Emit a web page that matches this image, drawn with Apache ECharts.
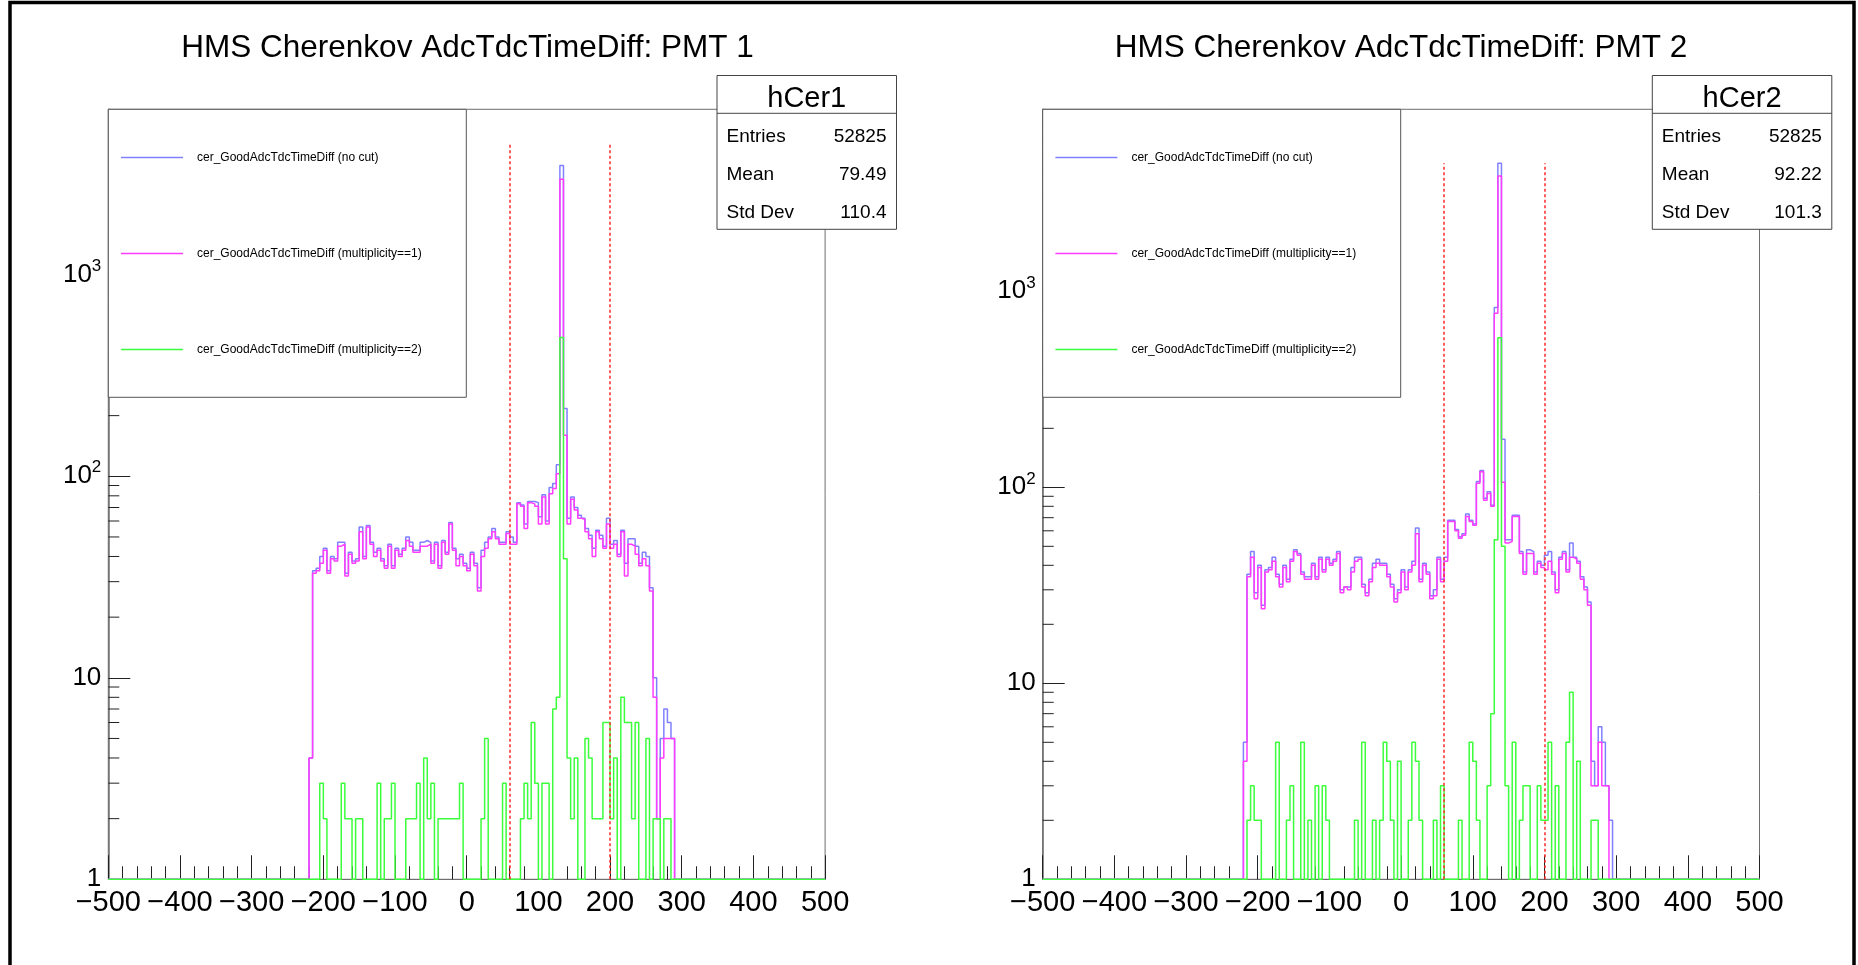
<!DOCTYPE html>
<html>
<head>
<meta charset="utf-8">
<script src="https://cdn.jsdelivr.net/npm/echarts@6/dist/echarts.min.js"></script>
<style>
html,body{margin:0;padding:0;background:#fff;}
#chart{width:1858px;height:965px;}
</style>
</head>
<body>
<div id="chart"></div>
<script>
// ---------------- data ----------------
const binWidth = 5;
const xMin = -500, xMax = 500;
const firstBinLow = -220;           // low edge of the first stored bin
const xTickValues = [-500,-400,-300,-200,-100,0,100,200,300,400,500];
const xTickLabels = ['\u2212500','\u2212400','\u2212300','\u2212200','\u2212100','0','100','200','300','400','500'];
const yTickValues = [1,10,100,1000];
const yTickLabels = ['1','10','10{sup|2}','10{sup|3}'];
const yMinorTickValues = [2,3,4,5,6,7,8,9,20,30,40,50,60,70,80,90,200,300,400,500,600,700,800,900,2000,3000,4000,5000,6000,7000,8000,9000];

const seriesNames = ['cer_GoodAdcTdcTimeDiff (no cut)','cer_GoodAdcTdcTimeDiff (multiplicity==1)','cer_GoodAdcTdcTimeDiff (multiplicity==2)'];
const panelTitles = ['HMS Cherenkov AdcTdcTimeDiff: PMT 1','HMS Cherenkov AdcTdcTimeDiff: PMT 2'];

// PMT 1 bin contents, bins of 5 starting at -220
const pmt1NoCut = [4,34,35,40,44,34,40,39,47,47, 33,42,38,39,56,40,57,47,42,44, 39,36,46,36,44,41,44,50,47,43,
  43,47,48,47,38,47,36,48,42,59, 44,39,41,37,35,42,37,28,43,47, 50,55,50,47,47,53,50,47,74,72,
  58,75,75,74,63,81,60,88,92,114, 3483,217,62,79,70,64,62,55,51,44, 54,51,45,62,46,48,41,54,37,49,
  49,45,37,42,40,28,10,2,5,7, 6,5];
const pmt1Mult1 = [4,33,34,37,43,33,39,38,45,46, 32,41,37,38,53,39,56,46,40,43, 38,35,45,35,43,40,43,48,45,42,
  42,45,45,46,37,46,35,47,41,58, 43,36,40,36,34,41,36,27,40,44, 49,53,49,46,46,52,46,46,73,71,
  55,74,73,71,58,79,58,82,87,103, 2979,160,58,77,68,62,61,53,49,40, 53,49,44,58,44,46,40,53,32,46,
  45,41,36,39,36,27,8,2,4,5, 5,5];
const pmt1Mult2 = [0,0,0,3,2,0,0,0,0,3, 2,2,0,2,2,0,0,0,0,3, 0,2,2,3,0,0,0,2,2,2,
  3,0,4,2,3,0,2,2,2,2, 2,2,3,0,0,0,0,0,2,5, 0,0,0,0,3,0,0,0,0,2,
  3,2,6,3,0,3,3,0,7,8, 488,39,4,2,4,0,0,5,4,2, 2,2,6,6,2,4,0,8,6,6,
  2,6,0,0,5,0,2,2,0,2, 2,0];

// PMT 2 bin contents, bins of 5 starting at -220
const pmt2NoCut = [5,36,47,29,40,25,38,39,44,36, 32,40,34,43,48,46,37,35,35,41, 35,44,38,44,41,43,47,30,31,31,
  39,44,44,32,29,34,41,43,41,41, 36,32,27,30,38,31,38,42,62,34, 41,37,28,30,44,34,44,68,68,61,
  56,58,73,68,65,107,122,88,95,81, 826,4500,176,54,54,72,72,47,37,48, 47,37,42,40,45,47,37,30,44,47,
  38,52,44,42,35,31,26,4,3,6, 5,3,2];
const pmt2Mult1 = [4,35,44,27,39,24,37,38,42,35, 31,39,33,42,47,45,36,34,34,40, 34,43,37,43,40,42,46,29,31,30,
  37,42,43,31,28,33,39,41,40,40, 35,31,26,29,37,30,37,40,58,33, 40,36,27,28,43,33,42,67,67,60,
  55,57,71,67,64,105,120,86,93,80, 773,3875,106,52,53,71,71,46,36,46, 46,36,41,39,38,42,36,29,43,46,
  37,44,43,41,34,30,25,3,3,5, 3,3,0];
const pmt2Mult2 = [0,2,3,2,2,0,0,0,0,5, 0,0,2,3,0,0,5,0,2,0, 3,0,3,2,0,0,0,0,0,0,
  0,2,0,5,0,0,2,0,2,5, 4,2,0,4,0,0,2,5,4,2, 0,0,0,2,0,3,0,0,0,0,
  2,0,0,5,4,2,0,0,3,7, 54,580,50,3,0,5,0,2,3,3, 0,0,3,2,2,5,0,3,0,0,
  5,9,0,4,0,0,0,2,2,0, 0,0,0];

const statsNames = ['hCer1','hCer2'];
const statsEntries = ['52825','52825'];
const statsMean = ['79.49','92.22'];
const statsStdDev = ['110.4','101.3'];

const cutLow = 60, cutHigh = 200, cutLineTop = 4500;
const yMaxByPanel = [6627, 8487];

// ---------------- layout / style ----------------
const gridLeft = [108.3, 1042.7];
const gridTop = 109.3, gridWidth = 716.8, gridHeight = 770;
const titleCenterX = [467.5, 1401];
const legendBoxW = 358, legendBoxH = 288;
const statsLeft = [717, 1652.3];
const statsW = 179.5;
const colors = ['#8080ff', '#ff3cff', '#3cff3c'];
const FONT = '"Liberation Sans", Arial, Helvetica, sans-serif';

function histPoints(counts) {
  const nBins = Math.round((xMax - xMin) / binWidth);
  const pts = [];
  for (let i = 0; i < nBins; i++) {
    const low = xMin + i * binWidth;
    const j = Math.round((low - firstBinLow) / binWidth);
    const c = (j >= 0 && j < counts.length) ? counts[j] : 0;
    pts.push([low, c > 0 ? c : 1]);   // empty bins sit on the axis floor as in ROOT
  }
  pts.push([xMax, pts[pts.length - 1][1]]);
  return pts;
}
function matchTick(v, list) {
  for (let i = 0; i < list.length; i++) if (Math.abs(v - list[i]) <= 1e-6 * list[i]) return i;
  return -1;
}

const panels = [[pmt1NoCut, pmt1Mult1, pmt1Mult2], [pmt2NoCut, pmt2Mult1, pmt2Mult2]];

const grid = [], xAxis = [], yAxis = [], series = [], title = [], legend = [], graphic = [];

for (let g = 0; g < 2; g++) {
  grid.push({left: gridLeft[g], top: gridTop, width: gridWidth, height: gridHeight,
    show: true, borderColor: '#6e6e6e', borderWidth: 1, backgroundColor: 'transparent', outerBoundsMode: 'none'});
  xAxis.push({
    type: 'value', gridIndex: g, min: xMin, max: xMax, interval: 100,
    axisLine: {show: true, onZero: false, lineStyle: {color: '#6e6e6e', width: 1}},
    axisTick: {show: true, inside: true, length: 24, lineStyle: {color: '#222', width: 1}},
    minorTick: {show: true, splitNumber: 5, length: 13, lineStyle: {color: '#222', width: 1}},
    splitLine: {show: false}, minorSplitLine: {show: false},
    axisLabel: {
      show: true, margin: 9, color: '#000', fontSize: 29, fontFamily: FONT,
      showMinLabel: true, showMaxLabel: true, hideOverlap: false,
      formatter: v => { const i = xTickValues.indexOf(v); return i >= 0 ? xTickLabels[i] : ''; }
    }
  });
  yAxis.push({
    type: 'log', logBase: 10, gridIndex: g, min: 1, max: yMaxByPanel[g],
    axisLine: {show: true, onZero: false, lineStyle: {color: '#6e6e6e', width: 1.5}},
    axisTick: {show: true, inside: true, length: 22, lineStyle: {color: '#222', width: 1}},
    minorTick: {show: false}, splitLine: {show: false},
    axisLabel: {
      show: true, margin: 7, color: '#000', fontSize: 26, fontFamily: FONT, lineHeight: 34,
      showMinLabel: true, showMaxLabel: false,
      formatter: v => { const i = matchTick(v, yTickValues); return i >= 0 ? yTickLabels[i] : ''; },
      rich: {sup: {fontSize: 17, fontFamily: FONT, color: '#000', lineHeight: 16, verticalAlign: 'top'}}
    }
  });
  title.push({
    text: panelTitles[g], left: titleCenterX[g], top: 32, textAlign: 'center', padding: 0,
    textStyle: {fontSize: 31.5, fontWeight: 'normal', color: '#000', fontFamily: FONT}
  });
  legend.push({
    show: true, orient: 'vertical', left: gridLeft[g] + 12.7, top: 150.5, padding: 0,
    icon: 'rect', itemWidth: 62, itemHeight: 1.5, itemGap: 82, selectedMode: false, z: 40,
    textStyle: {fontSize: 12, fontFamily: FONT, color: '#000', lineHeight: 14, padding: [0, 0, 0, 9]},
    data: seriesNames
  });

  const counts = panels[g];
  for (let s = 0; s < 3; s++) {
    const ser = {
      name: seriesNames[s], type: 'line', xAxisIndex: g, yAxisIndex: g, step: 'end',
      symbol: 'none', showSymbol: false, clip: true, silent: true, z: 2 + s * 0.1,
      lineStyle: {color: colors[s], width: 1.5}, itemStyle: {color: colors[s]},
      data: histPoints(counts[s])
    };
    if (s === 2) {
      ser.markLine = {
        silent: true, symbol: 'none', animation: false, label: {show: false},
        lineStyle: {color: '#ff2a2a', type: [3, 2.5], width: 1.5},
        data: [[{coord: [cutLow, 1]}, {coord: [cutLow, cutLineTop]}],
               [{coord: [cutHigh, 1]}, {coord: [cutHigh, cutLineTop]}]]
      };
    }
    series.push(ser);
  }
  // log minor ticks on the y axis (2..9 per decade)
  series.push({
    name: 'yMinorTicks' + g, type: 'custom', xAxisIndex: g, yAxisIndex: g, silent: true, z: 1,
    data: yMinorTickValues.filter(v => v < yMaxByPanel[g]).map(v => [xMin, v]),
    renderItem: (params, api) => {
      const p = api.coord([api.value(0), api.value(1)]);
      return {type: 'line', shape: {x1: p[0], y1: p[1], x2: p[0] + 11, y2: p[1]},
              style: {stroke: '#222', lineWidth: 1}};
    }
  });

  // legend frame
  graphic.push({type: 'rect', z: 30, silent: true,
    shape: {x: gridLeft[g], y: gridTop, width: legendBoxW, height: legendBoxH},
    style: {fill: '#fff', stroke: '#555', lineWidth: 1}});
  // stats box
  const x0 = statsLeft[g], y0 = 75.5, ySep = 113.3, y1 = 229.3;
  graphic.push({type: 'rect', z: 30, silent: true,
    shape: {x: x0, y: y0, width: statsW, height: y1 - y0},
    style: {fill: '#fff', stroke: '#444', lineWidth: 1}});
  graphic.push({type: 'line', z: 31, silent: true,
    shape: {x1: x0, y1: ySep, x2: x0 + statsW, y2: ySep}, style: {stroke: '#444', lineWidth: 1}});
  graphic.push({type: 'text', z: 32, silent: true, x: x0 + statsW / 2, y: (y0 + ySep) / 2 + 4.5,
    style: {text: statsNames[g], fontSize: 29, fontFamily: FONT, fill: '#000',
            align: 'center', verticalAlign: 'middle', textAlign: 'center', textVerticalAlign: 'middle'}});
  const rowNames = ['Entries', 'Mean', 'Std Dev'];
  const rowVals = [statsEntries[g], statsMean[g], statsStdDev[g]];
  const rowY = [136.7, 174.7, 212.7];
  for (let r = 0; r < 3; r++) {
    graphic.push({type: 'text', z: 32, silent: true, x: x0 + 9.5, y: rowY[r],
      style: {text: rowNames[r], fontSize: 19, fontFamily: FONT, fill: '#000',
              align: 'left', verticalAlign: 'middle', textAlign: 'left', textVerticalAlign: 'middle'}});
    graphic.push({type: 'text', z: 32, silent: true, x: x0 + statsW - 10, y: rowY[r],
      style: {text: rowVals[r], fontSize: 19, fontFamily: FONT, fill: '#000',
              align: 'right', verticalAlign: 'middle', textAlign: 'right', textVerticalAlign: 'middle'}});
  }
}
// canvas frame
graphic.push({type: 'polyline', z: 50, silent: true,
  shape: {points: [[10, 965], [10, 2.5], [1854, 2.5], [1854, 965]]},
  style: {fill: null, stroke: '#000', lineWidth: 3.5}});

const chart = echarts.init(document.getElementById('chart'), null, {renderer: 'canvas'});
chart.setOption({
  animation: false,
  backgroundColor: '#fff',
  textStyle: {fontFamily: FONT},
  title, legend, grid, xAxis, yAxis, series, graphic,
  tooltip: {show: false}
});
</script>
</body>
</html>
